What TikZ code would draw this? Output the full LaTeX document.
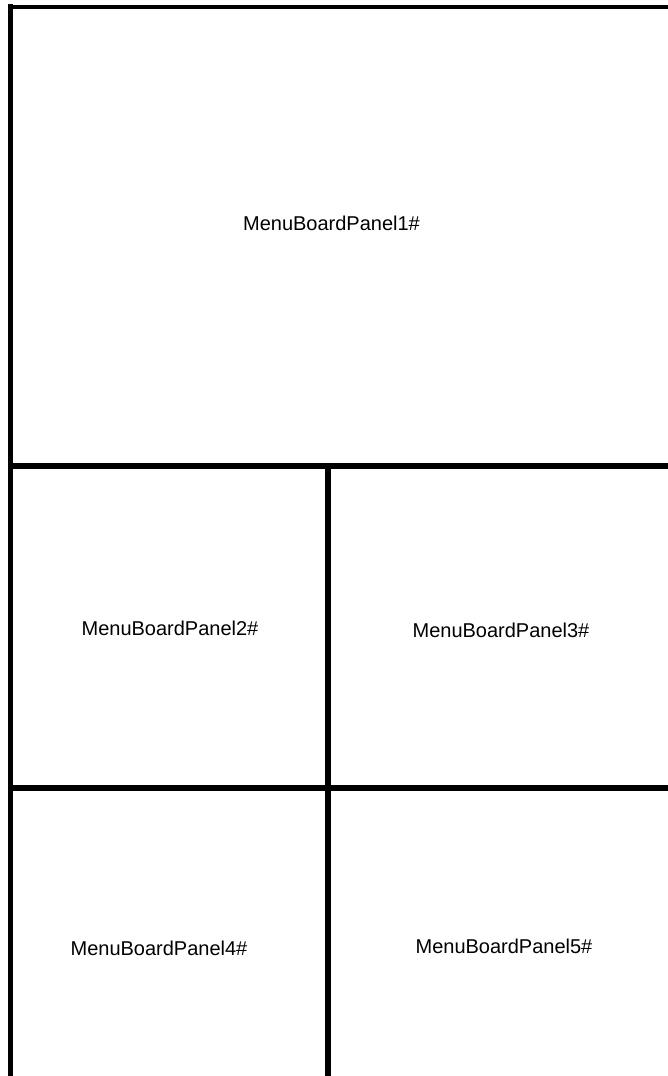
\documentclass[tikz,border=0pt]{standalone}
\usepackage{fontspec}
\setmainfont{Liberation Sans}
\usepackage{xcolor}
\usepackage{tikz}
\usetikzlibrary{positioning}

\begin{document}
\begin{tikzpicture}[
    x=1pt, y=-1pt,
    frameline/.style={
        draw=black,
        line width=5pt,
        line cap=rect
    },
    panellabel/.style={
        inner sep=0pt,
        font=\fontsize{20}{24}\selectfont
    }
]
    \useasboundingbox (0,0) rectangle (668,1076);

    % Frame corners and grid points
    \coordinate (topleft) at (10.5,6.5);
    \coordinate (topright) at (672,6.5);
    \coordinate (botleft) at (10.5,1080);
    \coordinate (midleft) at (10.5,465.5);
    \coordinate (midright) at (672,465.5);
    \coordinate (lowleft) at (10.5,787.5);
    \coordinate (lowright) at (672,787.5);
    \coordinate (splittop) at (328,465.5);
    \coordinate (splitbot) at (328,1080);

    % Outer border (top and left only)
    \draw[frameline, line width=4pt] (topleft) -- (topright);
    \draw[frameline] (topleft) -- (botleft);

    % Row dividers
    \draw[frameline, line width=6pt] (midleft) -- (midright);
    \draw[frameline, line width=6pt] (lowleft) -- (lowright);

    % Column divider
    \draw[frameline, line width=6pt] (splittop) -- (splitbot);

    % Panel labels
    \node[panellabel] (panel1) at (331.5,223) {MenuBoardPanel1\#};
    \node[panellabel] (panel2) at (170,628) {MenuBoardPanel2\#};
    \node[panellabel] (panel3) at (501,630) {MenuBoardPanel3\#};
    \node[panellabel] (panel4) at (159,948) {MenuBoardPanel4\#};
    \node[panellabel] (panel5) at (504,946) {MenuBoardPanel5\#};

\end{tikzpicture}
\end{document}
